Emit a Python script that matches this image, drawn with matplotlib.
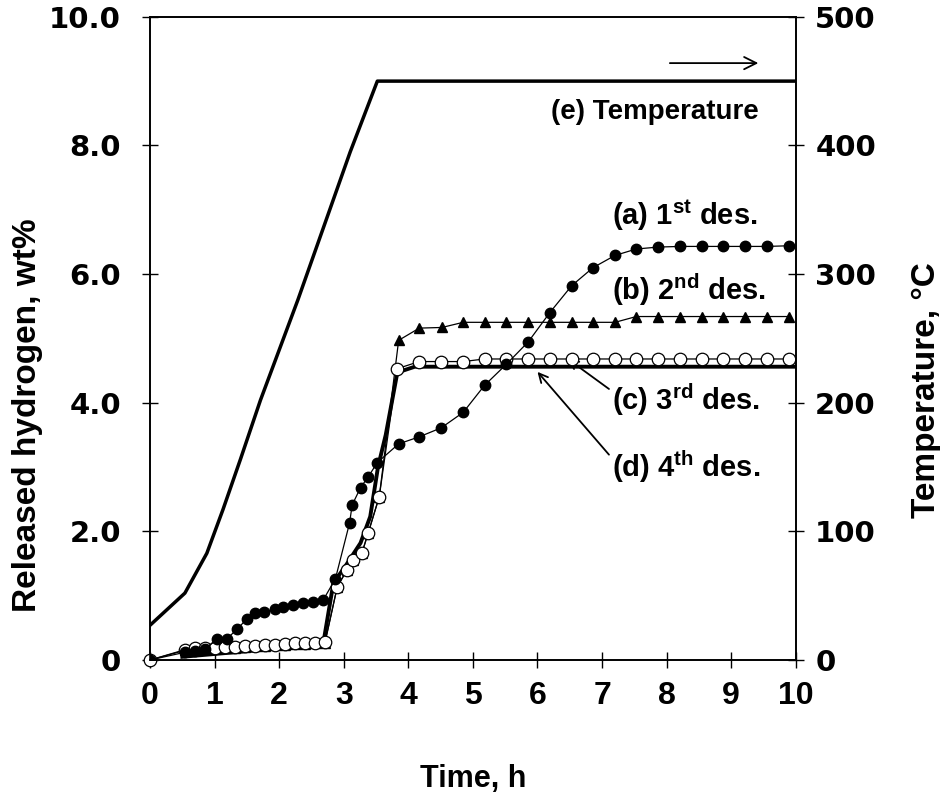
import numpy as np
import matplotlib
matplotlib.use('Agg')
import matplotlib.pyplot as plt

plt.rcParams['font.family'] = ['Liberation Sans', 'DejaVu Sans']
plt.rcParams['mathtext.fontset'] = 'custom'
plt.rcParams['mathtext.rm'] = 'Liberation Sans'
plt.rcParams['mathtext.bf'] = 'Liberation Sans:bold'

# (a) 1st desorption - filled circles
t_a = [0, 0.54, 0.70, 0.85, 1.04, 1.19, 1.35, 1.50, 1.63, 1.77, 1.93, 2.06, 2.21, 2.37,
       2.53, 2.68, 2.87, 3.09, 3.13, 3.26, 3.38, 3.52, 3.85, 4.17, 4.51, 4.85, 5.18,
       5.52, 5.86, 6.19, 6.53, 6.86, 7.20, 7.53, 7.87, 8.21, 8.54, 8.88, 9.21, 9.55, 9.89]
h_a = [0, 0.12, 0.14, 0.17, 0.33, 0.33, 0.48, 0.64, 0.73, 0.75, 0.79, 0.83, 0.85, 0.88,
       0.90, 0.93, 1.26, 2.13, 2.41, 2.68, 2.85, 3.07, 3.36, 3.47, 3.61, 3.85, 4.27,
       4.60, 4.95, 5.40, 5.82, 6.10, 6.29, 6.39, 6.42, 6.43, 6.43, 6.43, 6.43, 6.43, 6.44]

# (b) 2nd desorption - filled triangles
t_b = [0, 0.54, 0.70, 0.85, 1.01, 1.16, 1.32, 1.47, 1.63, 1.78, 1.94, 2.09, 2.25, 2.40,
       2.56, 2.71, 2.90, 3.05, 3.15, 3.28, 3.38, 3.55, 3.85, 4.17, 4.52, 4.85, 5.18,
       5.52, 5.86, 6.19, 6.53, 6.86, 7.20, 7.53, 7.87, 8.21, 8.54, 8.88, 9.21, 9.55, 9.89]
h_b = [0, 0.15, 0.16, 0.17, 0.18, 0.18, 0.19, 0.20, 0.21, 0.22, 0.23, 0.24, 0.25, 0.25,
       0.26, 0.27, 1.14, 1.40, 1.56, 1.66, 1.98, 2.54, 4.97, 5.16, 5.17, 5.25, 5.25,
       5.25, 5.25, 5.25, 5.25, 5.25, 5.25, 5.34, 5.34, 5.34, 5.34, 5.34, 5.34, 5.34, 5.34]

# (c) 3rd desorption - open circles
t_c = [0, 0.54, 0.70, 0.85, 1.01, 1.16, 1.32, 1.47, 1.63, 1.78, 1.94, 2.09, 2.25, 2.40,
       2.56, 2.71, 2.90, 3.05, 3.15, 3.28, 3.38, 3.55, 3.83, 4.17, 4.51, 4.85, 5.18,
       5.52, 5.86, 6.19, 6.53, 6.86, 7.20, 7.53, 7.87, 8.21, 8.54, 8.88, 9.21, 9.55, 9.89]
h_c = [0, 0.16, 0.18, 0.18, 0.19, 0.20, 0.20, 0.21, 0.22, 0.23, 0.24, 0.25, 0.26, 0.27,
       0.27, 0.28, 1.14, 1.40, 1.56, 1.66, 1.98, 2.54, 4.53, 4.64, 4.64, 4.64, 4.68,
       4.68, 4.68, 4.68, 4.68, 4.68, 4.68, 4.68, 4.68, 4.68, 4.68, 4.68, 4.68, 4.68, 4.68]

# (d) 4th desorption - thick line
t_d = [0.50, 2.68, 2.84, 3.02, 3.26, 3.41, 3.53, 3.65, 3.83, 4.10, 10.0]
h_d = [0.05, 0.24, 1.20, 1.45, 1.82, 2.23, 3.00, 3.50, 4.47, 4.56, 4.56]

# (e) temperature, degC
t_e = [0, 0.54, 0.88, 1.13, 1.40, 1.71, 2.29, 3.10, 3.52, 10.0]
temp_e = [27, 52, 83, 117, 156, 202, 280, 395, 450, 450]

fig = plt.figure(figsize=(9.4, 8), dpi=100)
ax = fig.add_axes([0.1596, 0.175, 0.687, 0.804])
ax2 = ax.twinx()

ax.plot(t_d, h_d, color='black', lw=2.8, zorder=3)
ax.plot(t_b, h_b, color='black', lw=0.9, marker='^', ms=6.5, mfc='black', mec='black', zorder=4)
ax.plot(t_c, h_c, color='black', lw=0.9, marker='o', ms=9, mfc='white', mec='black',
        mew=0.9, zorder=5, clip_on=False)
ax.plot(t_a, h_a, color='black', lw=0.9, marker='o', ms=7.5, mfc='black', mec='black', zorder=6)

ax2.plot(t_e, temp_e, color='black', lw=2.5)

ax.set_xlim(0, 10)
ax.set_ylim(0, 10)
ax2.set_ylim(0, 500)

xt = list(range(0, 11))
ax.set_xticks(xt)
ax.set_xticklabels([str(v) for v in xt], fontweight='bold', fontsize=23)
yt = [0, 2, 4, 6, 8, 10]
ax.set_yticks(yt)
ax.set_yticklabels(['0'] + ['%.1f' % v for v in yt[1:]], family='DejaVu Sans',
                   fontweight='bold', fontsize=21)
rt = [0, 100, 200, 300, 400, 500]
ax2.set_yticks(rt)
ax2.set_yticklabels([str(v) for v in rt], family='DejaVu Sans', fontweight='bold', fontsize=21)

ax.tick_params(axis='y', direction='inout', length=12, width=1, pad=15)
ax.tick_params(axis='x', direction='inout', length=12, width=1, pad=9)
ax2.tick_params(axis='y', direction='inout', length=12, width=1, pad=8)

for a in (ax, ax2):
    for s in a.spines.values():
        s.set_linewidth(1.2)

ax.set_xlabel('Time, h', fontweight='bold', fontsize=22)
ax.xaxis.set_label_coords(0.5, -0.162)
ax.set_ylabel('Released hydrogen, wt%', fontweight='bold', fontsize=24)
ax.yaxis.set_label_coords(-0.165, 0.38)
ax2.set_ylabel('Temperature, °C', fontweight='bold', fontsize=24)
ax2.yaxis.set_label_coords(1.178, 0.42)

lab = dict(fontsize=21, fontweight='bold', va='center')
ax.text(9.42, 8.52, '(e) Temperature', ha='right', fontsize=20, fontweight='bold', va='center')
ax.text(7.15, 6.92, r'(a) 1$^{\mathbf{st}}$ des.', ha='left', **lab)
ax.text(7.15, 5.75, r'(b) 2$^{\mathbf{nd}}$ des.', ha='left', **lab)
ax.annotate(r'(c) 3$^{\mathbf{rd}}$ des.', xy=(6.47, 4.68), xytext=(7.15, 4.04), ha='left',
            arrowprops=dict(arrowstyle='->', lw=1.3, color='black', relpos=(0, 0.75),
                            shrinkA=0, shrinkB=0, mutation_scale=16), **lab)
ax.annotate(r'(d) 4$^{\mathbf{th}}$ des.', xy=(6.0, 4.48), xytext=(7.15, 3.0), ha='left',
            arrowprops=dict(arrowstyle='->', lw=1.3, color='black', relpos=(0, 0.75),
                            shrinkA=0, shrinkB=0, mutation_scale=16), **lab)
ax.annotate('', xy=(9.42, 9.28), xytext=(8.05, 9.28),
            arrowprops=dict(arrowstyle='->', lw=1.3, color='black', shrinkA=0, shrinkB=0,
                            mutation_scale=22))

fig.savefig('out.png', dpi=100)
